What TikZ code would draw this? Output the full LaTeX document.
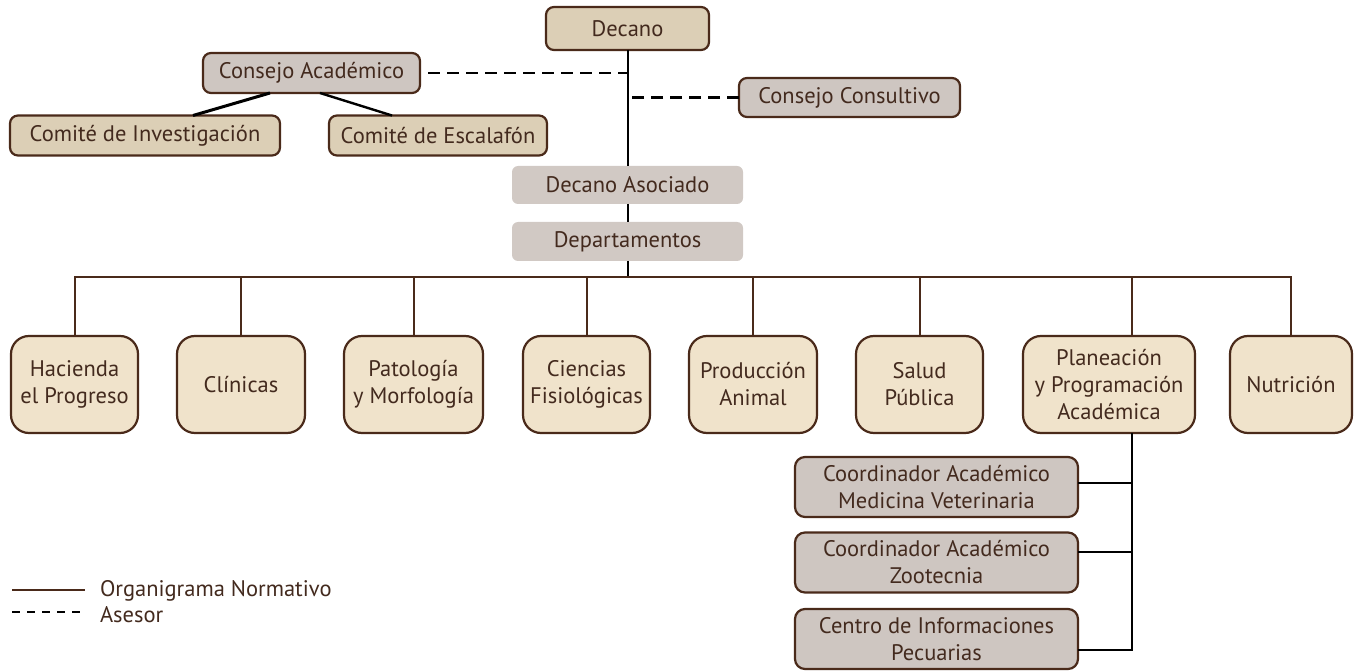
\documentclass[tikz,border=0pt]{standalone}
\usepackage{fontspec}
\setmainfont{PT Sans}
\definecolor{inkbrown}{HTML}{432A1E}
\definecolor{edgebrown}{HTML}{4A2A1A}
\definecolor{tanfill}{HTML}{DCCFB6}
\definecolor{greyfill}{HTML}{CEC6C1}
\definecolor{softgrey}{HTML}{D1C9C4}
\definecolor{creamfill}{HTML}{F0E3CB}
\begin{document}
\begin{tikzpicture}[x=1pt,y=-1pt,
  every node/.style={inner sep=0pt, outer sep=0pt, text=inkbrown,
    font=\fontsize{22.5}{27}\selectfont, align=center},
  topbox/.style={draw=edgebrown, line width=2.2pt, rounded corners=8pt, fill=tanfill},
  greybox/.style={draw=edgebrown, line width=2.2pt, rounded corners=8pt, fill=greyfill},
  flatbox/.style={fill=softgrey, rounded corners=6pt},
  deptbox/.style={draw=edgebrown, line width=2.2pt, rounded corners=18pt, fill=creamfill,
    minimum height=97pt},
  coordbox/.style={draw=edgebrown, line width=2.2pt, rounded corners=10pt, fill=greyfill,
    minimum width=283pt, minimum height=60pt},
  normline/.style={draw=edgebrown, line width=2pt},
  blackline/.style={draw=black, line width=2pt},
  advline/.style={draw=black, line width=2.4pt, dash pattern=on 12pt off 7pt},
]
\useasboundingbox (0,0) rectangle (1355,671);

% top of the chart
\node[topbox, minimum width=163pt, minimum height=43pt] (decano) at (627.5,28.5) {Decano};
\node[greybox, minimum width=217pt, minimum height=40pt] (consA) at (311.5,73) {Consejo Académico};
\node[topbox, minimum width=270pt, minimum height=40pt] (cinv) at (145,135.5) {Comité de Investigación};
\node[topbox, minimum width=218pt, minimum height=40pt] (cesc) at (438,135.5) {Comité de Escalafón};
\node[greybox, minimum width=221pt, minimum height=39pt] (consC) at (849.5,97.5) {Consejo Consultivo};
\node[flatbox, minimum width=231pt, minimum height=38pt] (asoc) at (627.5,185) {Decano Asociado};
\node[flatbox, minimum width=231pt, minimum height=39pt] (deptos) at (627.5,241.5) {Departamentos};

% departments
\node[deptbox, minimum width=127pt] (hac) at (74.5,384.5) {Hacienda\\el Progreso};
\node[deptbox, minimum width=128pt] (clin) at (241,384.5) {Clínicas};
\node[deptbox, minimum width=139pt] (pat) at (413.5,384.5) {Patología\\y Morfología};
\node[deptbox, minimum width=127pt] (cie) at (586.5,384.5) {Ciencias\\Fisiológicas};
\node[deptbox, minimum width=128pt] (prod) at (753,384.5) {Producción\\Animal};
\node[deptbox, minimum width=127pt] (sal) at (919.5,384.5) {Salud\\Pública};
\node[deptbox, minimum width=172pt] (plan) at (1109,384.5) {Planeación\\y Programación\\Académica};
\node[deptbox, minimum width=122pt] (nut) at (1291,384.5) {Nutrición};

% coordinations under Planeación
\node[coordbox] (co1) at (936.5,487) {Coordinador Académico\\Medicina Veterinaria};
\node[coordbox] (co2) at (936.5,562.5) {Coordinador Académico\\Zootecnia};
\node[coordbox] (co3) at (936.5,639) {Centro de Informaciones\\Pecuarias};

% main line of authority
\draw[blackline] (decano.south) -- (asoc.north);
\draw[blackline] (asoc.south) -- (deptos.north);
\coordinate (bar) at (627.5,277);
\draw[blackline] (deptos.south) -- (bar);

% advisory links
\draw[advline] ([xshift=8pt]consA.east) -- (consA.east -| decano.south);
\draw[advline] (consC.west) -- (consC.west -| decano.south);

% Consejo Académico to its committees
\draw[draw=black, line width=3pt] ([xshift=-41.5pt]consA.south) -- ([xshift=48pt]cinv.north);
\draw[draw=black, line width=2.4pt] ([xshift=8.5pt]consA.south) -- ([xshift=-46pt]cesc.north);

% department bar and drops
\coordinate (ptop) at ([xshift=23pt]plan.north);
\coordinate (pbot) at ([xshift=23pt]plan.south);
\draw[normline] (hac.north) -- (hac.north |- bar) -- (nut.north |- bar) -- (nut.north);
\foreach \d in {clin,pat,cie,prod,sal,ptop}
  \draw[normline] (\d.north) -- (\d.north |- bar);

% Planeación to its coordinations
\coordinate (c1) at ([yshift=4pt]co1.east);
\coordinate (c2) at ([yshift=10.5pt]co2.east);
\coordinate (c3) at ([yshift=-11pt]co3.east);
\draw[blackline] (pbot) -- (pbot |- c3) -- (c3);
\draw[blackline] (c1) -- (c1 -| pbot);
\draw[blackline] (c2) -- (c2 -| pbot);

% legend
\coordinate (l1a) at (12,590);
\coordinate (l1b) at (85,590);
\coordinate (l2a) at (12,612);
\coordinate (l2b) at (85,612);
\draw[normline, line width=2.6pt] (l1a) -- (l1b);
\draw[draw=black, line width=2.2pt, dash pattern=on 8pt off 7pt] (l2a) -- (l2b);
\node[anchor=west] (leg1) at (100,591) {Organigrama Normativo};
\node[anchor=west] (leg2) at (100,615) {Asesor};
\end{tikzpicture}
\end{document}
